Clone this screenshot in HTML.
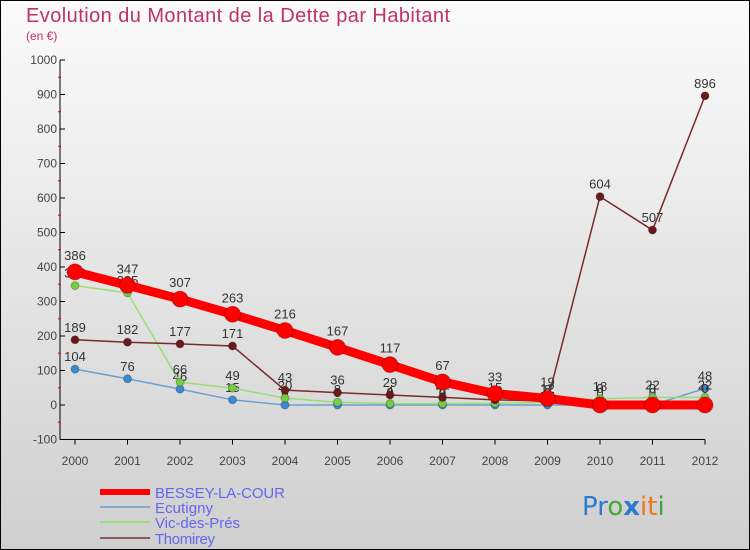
<!DOCTYPE html>
<html><head><meta charset="utf-8"><style>
body{margin:0;padding:0}
svg{display:block;font-family:"Liberation Sans",sans-serif}
</style></head><body>
<svg id="c" width="750" height="550" viewBox="0 0 750 550">
<defs><linearGradient id="bg" x1="0" y1="0" x2="0" y2="1"><stop offset="0" stop-color="#fbfbfb"/><stop offset="1" stop-color="#cfcfcf"/></linearGradient></defs>
<rect x="0.5" y="0.5" width="749" height="549" fill="url(#bg)" stroke="#000"/>
<text x="26" y="22" font-size="20" fill="#c0306b" textLength="424">Evolution du Montant de la Dette par Habitant</text>
<text x="26" y="40" font-size="12" fill="#c0306b">(en €)</text>
<g id="axes"></g><g id="series"></g>
<g>
<line x1="100" y1="492" x2="150" y2="492" stroke="#f00" stroke-width="6"/>
<text x="155" y="498" font-size="15" fill="#6666ee" textLength="130">BESSEY-LA-COUR</text>
<line x1="100" y1="507" x2="150" y2="507" stroke="#80aad0" stroke-width="2"/>
<text x="155" y="513" font-size="15" fill="#6666ee" textLength="58">Ecutigny</text>
<line x1="100" y1="522" x2="150" y2="522" stroke="#99dd77" stroke-width="2"/>
<text x="155" y="528" font-size="15" fill="#6666ee" textLength="85">Vic-des-Prés</text>
<line x1="100" y1="538" x2="150" y2="538" stroke="#8a5a5a" stroke-width="2"/>
<text x="155" y="544" font-size="15" fill="#6666ee" textLength="60">Thomirey</text>
</g>
<g font-size="26" font-family="'DejaVu Sans',sans-serif">
<text x="582" y="515"><tspan fill="#2a7ad0">Pr</tspan><tspan fill="#44aa33">o</tspan><tspan fill="#2a7ad0" font-weight="bold">x</tspan><tspan fill="#ee7711">it</tspan><tspan fill="#44aa33">i</tspan></text>
</g>
</svg>
<script>
const years=["2000","2001","2002","2003","2004","2005","2006","2007","2008","2009","2010","2011","2012"];
const yTicks=[-100,0,100,200,300,400,500,600,700,800,900,1000];
const bessey=[386,347,307,263,216,167,117,67,33,19,0,0,0];
const ecutigny=[104,76,46,15,0,0,0,0,0,0,0,0,48];
const vic=[346,325,66,49,20,8,4,4,5,8,18,22,22];
const thomirey=[189,182,177,171,43,36,29,22,15,12,604,507,896];
const NS="http://www.w3.org/2000/svg";
const X=i=>75+i*52.5, Y=v=>405-v*0.345;
function mk(p,t,a){const e=document.createElementNS(NS,t);for(const k in a)e.setAttribute(k,a[k]);p.appendChild(e);return e;}
const ax=document.getElementById('axes'), sg=document.getElementById('series');
let l=mk(ax,'line',{x1:60,y1:Y(1000),x2:60,y2:Y(-100),stroke:'#000'});

l=mk(ax,'line',{x1:60,y1:Y(-100),x2:705,y2:Y(-100),stroke:'#000'});

yTicks.forEach(v=>{mk(ax,'line',{x1:60,y1:Y(v),x2:65,y2:Y(v),stroke:'#000'});
 if(v<1000) mk(ax,'line',{x1:58,y1:Y(v+50),x2:61,y2:Y(v+50),stroke:'#e00'});
 const t=mk(ax,'text',{x:57,y:Y(v)+4,'font-size':12,fill:'#444','text-anchor':'end'});t.textContent=v;
 });
years.forEach((y,i)=>{mk(ax,'line',{x1:X(i),y1:Y(-100),x2:X(i),y2:Y(-100)+5,stroke:'#000'});
 const t=mk(ax,'text',{x:X(i),y:465,'font-size':12,fill:'#444','text-anchor':'middle'});t.textContent=y;
 });
function series(d,name,col,pcol,w,r){const g=mk(sg,'g',{});
 
 mk(g,'polyline',{points:d.map((v,i)=>X(i)+','+Y(v)).join(' '),fill:'none',stroke:col,'stroke-width':w,'stroke-linejoin':'round'});
 d.forEach((v,i)=>{const c=mk(g,'circle',{cx:X(i),cy:Y(v),r:r,fill:pcol,stroke:'rgba(0,0,0,0.25)'});
  
  const t=mk(g,'text',{x:X(i),y:Y(v)-r-4,'font-size':13,fill:'#333','text-anchor':'middle'});t.textContent=v;
  });}
series(ecutigny,'ecutigny','#6aa0d0','#3a8ad0',1.5,4);
series(vic,'vic-des-pres','#99dd77','#77cc44',1.5,4);
series(thomirey,'thomirey','#7a2a2a','#6b1a1a',1.5,4);
series(bessey,'bessey-la-cour','#f00','#f00',9,8);
</script>
</body></html>
